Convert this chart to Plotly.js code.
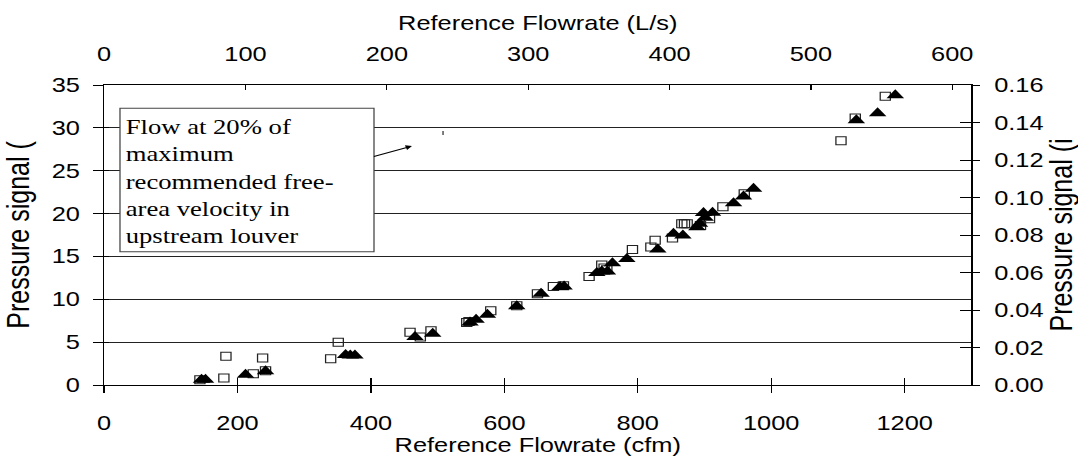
<!DOCTYPE html>
<html><head><meta charset="utf-8">
<script src="https://cdn.plot.ly/plotly-3.0.1.min.js"></script>
<style>
html,body{margin:0;padding:0;overflow:hidden;background:#fff}
#wrap{width:849px;height:460px;transform:scaleX(1.26973);transform-origin:0 0}
</style>
</head><body><div id="wrap"><div id="chart"></div></div>
<script>
// Open squares: reference flowrate (cfm) and pressure signal (Pa)
const squareCfm = [143.6,179.5,182.6,223.6,237.6,242,339.6,351,458.6,474,490,543.6,547,579.6,618.6,649.6,673.5,688.5,727,746,749.5,753.6,792,819.6,826,852,866,870,874,894,907.5,927.6,959.6,1104.6,1126,1171];
const squarePa  = [0.62,0.82,3.34,1.32,3.15,1.65,3.07,5.0,6.14,5.6,6.33,7.3,7.4,8.67,9.25,10.65,11.5,11.58,12.67,14.0,13.65,13.45,15.8,16.1,16.9,17.15,18.8,18.8,18.8,18.6,19.4,20.8,22.3,28.5,31.15,33.7];
// Filled triangles
const triCfm = [146,152,212,242,362,369,376,466,492.6,548.5,557.6,574.6,618.6,655,683.5,689.5,738.6,746,754.5,762,783.6,830,853.5,867.6,888.6,892.5,898.5,901,912,943.5,958.5,973.5,1127.6,1159.5,1186];
const triPa  = [0.6,0.6,1.2,1.6,3.5,3.45,3.45,5.6,5.98,7.3,7.6,8.2,9.2,10.65,11.43,11.5,13.07,13.25,13.25,14.2,14.7,15.8,17.65,17.45,18.4,18.8,20.07,19.5,20.1,21.2,22.0,22.9,30.9,31.7,33.8];

const bottomTicks = [0,200,400,600,800,1000,1200];
const topTicks = [0,100,200,300,400,500,600];
const leftTicks = [0,5,10,15,20,25,30,35];
const rightTicks = [0,0.02,0.04,0.06,0.08,0.10,0.12,0.14,0.16];
const rightTickText = ['0.00','0.02','0.04','0.06','0.08','0.10','0.12','0.14','0.16'];
const CFM_PER_LPS = 2.119;
const CFM_MAX = 1300, PA_MAX = 35, INWC_MAX = 0.16;

const noteLines = ['Flow at 20% of','maximum','recommended free-','area velocity in','upstream louver'];

const F = {family:'Liberation Sans, Arial, sans-serif', size:20, color:'#000'};
const TF = {family:'Liberation Sans, Arial, sans-serif', size:20, color:'#000'};
const RF = {family:'Liberation Sans, Arial, sans-serif', size:25, color:'#000'};

const traces = [
  {x:squareCfm, y:squarePa, type:'scatter', mode:'markers', xaxis:'x', yaxis:'y',
   marker:{symbol:'square-open', size:8, color:'#222', line:{width:1, color:'#222'}}, showlegend:false},
  {x:triCfm, y:triPa, type:'scatter', mode:'markers', xaxis:'x', yaxis:'y',
   marker:{symbol:'triangle-up', size:12, color:'#000'}, showlegend:false},
  {x:[], y:[], xaxis:'x2', yaxis:'y', type:'scatter', showlegend:false},
  {x:[], y:[], xaxis:'x3', yaxis:'y', type:'scatter', showlegend:false},
  {x:[], y:[], xaxis:'x', yaxis:'y2', type:'scatter', showlegend:false},
  {x:[], y:[], xaxis:'x', yaxis:'y3', type:'scatter', showlegend:false},
  {x:[], y:[], xaxis:'x', yaxis:'y4', type:'scatter', showlegend:false}
];

const layout = {
  width:849, height:460,
  margin:{l:82, r:84, t:85, b:75},
  paper_bgcolor:'#fff', plot_bgcolor:'#fff',
  showlegend:false,
  font:F,
  xaxis:{range:[0,CFM_MAX], tickvals:bottomTicks, ticks:'outside', ticklen:7, tickcolor:'#000', tickwidth:1,
    showline:true, linecolor:'#000', linewidth:1, showgrid:false, zeroline:false, tickfont:F,
    ticklabelstandoff:13,
    title:{text:'Reference Flowrate (cfm)', font:TF, standoff:2}, automargin:false},
  xaxis3:{range:[0,CFM_MAX], tickvals:bottomTicks, overlaying:'x', side:'bottom', anchor:'y', ticks:'inside', ticklen:7,
    tickcolor:'#000', showticklabels:false, showline:false, showgrid:false, zeroline:false},
  xaxis2:{range:[0,CFM_MAX/CFM_PER_LPS], tickvals:topTicks, overlaying:'x', side:'top', anchor:'y', ticks:'inside', ticklen:5,
    tickcolor:'#000', showline:true, linecolor:'#000', linewidth:1, showgrid:false, zeroline:false, tickfont:F,
    ticklabelstandoff:15,
    title:{text:'Reference Flowrate (L/s)', font:TF, standoff:6}, automargin:false},
  yaxis:{range:[0,PA_MAX], tickvals:leftTicks, ticks:'outside', ticklen:8, tickcolor:'#000', showline:true,
    linecolor:'#000', linewidth:1, showgrid:true, gridcolor:'#222', gridwidth:1, zeroline:false, tickfont:F,
    ticklabelstandoff:6,
    title:{text:'Pressure signal (', font:RF, standoff:13}, automargin:false},
  yaxis3:{range:[0,PA_MAX], tickvals:leftTicks, overlaying:'y', side:'left', anchor:'x', ticks:'inside', ticklen:4,
    tickcolor:'#000', showticklabels:false, showline:false, showgrid:false, zeroline:false},
  yaxis2:{range:[0,INWC_MAX], tickvals:rightTicks, ticktext:rightTickText, overlaying:'y', side:'right', anchor:'x',
    ticks:'outside', ticklen:6, tickcolor:'#000', showline:true, linecolor:'#000', linewidth:1, showgrid:false,
    zeroline:false, tickfont:F, ticklabelstandoff:7,
    title:{text:'Pressure signal (i', font:RF, standoff:11}, automargin:false},
  yaxis4:{range:[0,INWC_MAX], tickvals:rightTicks, overlaying:'y', side:'right', anchor:'x', ticks:'inside', ticklen:9,
    tickcolor:'#000', showticklabels:false, showline:false, showgrid:false, zeroline:false},
  shapes:[
    {type:'rect', xref:'paper', yref:'paper', x0:0.0183, x1:0.3112, y0:0.4443, y1:0.9223,
     fillcolor:'#fff', line:{color:'#444', width:1}, layer:'above'},
    {type:'line', xref:'paper', yref:'paper', x0:0.3908, x1:0.3908, y0:0.8333, y1:0.8467,
     line:{color:'#333', width:1}}
  ],
  annotations:[
    {xref:'paper', yref:'paper', x:0.0241, y:0.905, xanchor:'left', yanchor:'top', align:'left', showarrow:false,
     text:noteLines.join('<br>'), font:{family:'Liberation Serif, Times New Roman, serif', size:21, color:'#000'}, borderpad:0},
    {xref:'paper', yref:'paper', x:0.3550, y:0.7967, ax:-31.5, ay:11, showarrow:true, arrowhead:2, arrowsize:1,
     arrowwidth:1, arrowcolor:'#000', text:''}
  ]
};

Plotly.newPlot('chart', traces, layout, {staticPlot:true, displayModeBar:false, responsive:false});
</script>
</body></html>
